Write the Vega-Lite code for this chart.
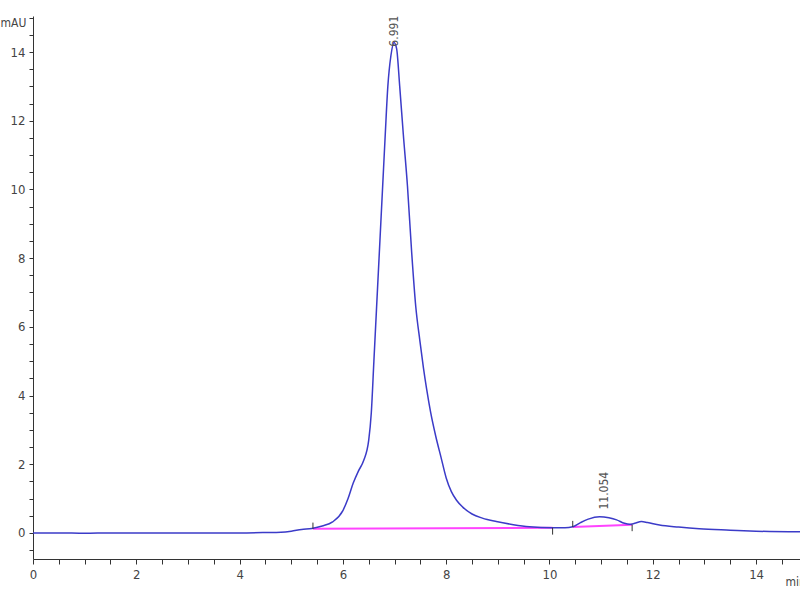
{
  "$schema": "https://vega.github.io/schema/vega-lite/v6.json",
  "autosize": {"type": "none"},
  "padding": {"left": 33, "top": 16, "right": 0, "bottom": 41},
  "width": 767,
  "height": 543,
  "background": "white",
  "config": {
    "view": {"stroke": null},
    "font": "Liberation Sans Narrow, DejaVu Sans Condensed, sans-serif"
  },
  "datasets": {
    "signal": [
      {"t": 0.0, "mAU": 0.0}, {"t": 0.5, "mAU": 0.0}, {"t": 1.0, "mAU": -0.01}, {"t": 1.5, "mAU": 0.0},
      {"t": 2.0, "mAU": 0.0}, {"t": 2.5, "mAU": 0.0}, {"t": 3.0, "mAU": 0.0}, {"t": 3.5, "mAU": 0.0},
      {"t": 4.0, "mAU": 0.0}, {"t": 4.5, "mAU": 0.01}, {"t": 4.8, "mAU": 0.02}, {"t": 5.0, "mAU": 0.05},
      {"t": 5.2, "mAU": 0.1}, {"t": 5.4, "mAU": 0.13}, {"t": 5.6, "mAU": 0.2}, {"t": 5.8, "mAU": 0.32},
      {"t": 6.0, "mAU": 0.65}, {"t": 6.1, "mAU": 1.0}, {"t": 6.2, "mAU": 1.45}, {"t": 6.3, "mAU": 1.8},
      {"t": 6.4, "mAU": 2.1}, {"t": 6.5, "mAU": 2.7}, {"t": 6.55, "mAU": 3.5}, {"t": 6.6, "mAU": 5.0},
      {"t": 6.65, "mAU": 6.5}, {"t": 6.7, "mAU": 8.0}, {"t": 6.77, "mAU": 10.1}, {"t": 6.82, "mAU": 11.6},
      {"t": 6.87, "mAU": 13.0}, {"t": 6.93, "mAU": 13.9}, {"t": 6.99, "mAU": 14.28}, {"t": 7.04, "mAU": 14.1},
      {"t": 7.1, "mAU": 13.0}, {"t": 7.17, "mAU": 11.6}, {"t": 7.25, "mAU": 10.1}, {"t": 7.33, "mAU": 8.2},
      {"t": 7.41, "mAU": 6.6}, {"t": 7.49, "mAU": 5.6}, {"t": 7.56, "mAU": 4.8}, {"t": 7.62, "mAU": 4.2},
      {"t": 7.7, "mAU": 3.5}, {"t": 7.8, "mAU": 2.8}, {"t": 7.9, "mAU": 2.2}, {"t": 8.0, "mAU": 1.6},
      {"t": 8.1, "mAU": 1.2}, {"t": 8.2, "mAU": 0.95}, {"t": 8.32, "mAU": 0.75}, {"t": 8.5, "mAU": 0.55},
      {"t": 8.7, "mAU": 0.43}, {"t": 8.97, "mAU": 0.33}, {"t": 9.3, "mAU": 0.24}, {"t": 9.61, "mAU": 0.18},
      {"t": 10.06, "mAU": 0.15}, {"t": 10.3, "mAU": 0.15}, {"t": 10.45, "mAU": 0.18}, {"t": 10.6, "mAU": 0.3},
      {"t": 10.75, "mAU": 0.4}, {"t": 10.97, "mAU": 0.47}, {"t": 11.15, "mAU": 0.44}, {"t": 11.3, "mAU": 0.38},
      {"t": 11.45, "mAU": 0.28}, {"t": 11.55, "mAU": 0.25}, {"t": 11.65, "mAU": 0.28}, {"t": 11.78, "mAU": 0.33},
      {"t": 11.9, "mAU": 0.3}, {"t": 12.13, "mAU": 0.23}, {"t": 12.5, "mAU": 0.17}, {"t": 12.9, "mAU": 0.12},
      {"t": 13.5, "mAU": 0.08}, {"t": 14.0, "mAU": 0.05}, {"t": 14.85, "mAU": 0.03}
    ],
    "baseline": [
      {"t": 5.42, "mAU": 0.12, "peak": "p1"}, {"t": 10.06, "mAU": 0.15, "peak": "p1"},
      {"t": 10.45, "mAU": 0.17, "peak": "p2"}, {"t": 11.6, "mAU": 0.24, "peak": "p2"}
    ],
    "marks": [
      {"t": 5.42, "y1": 0.12, "y2": 0.3},
      {"t": 10.06, "y1": 0.15, "y2": -0.05},
      {"t": 10.45, "y1": 0.17, "y2": 0.35},
      {"t": 11.6, "y1": 0.24, "y2": 0.05}
    ],
    "peaks": [
      {"t": 6.991, "pos": 14.1, "label": "6.991"},
      {"t": 11.054, "pos": 0.62, "label": "11.054"}
    ]
  },
  "layer": [
    {
      "data": {"name": "baseline"},
      "mark": {"type": "line", "color": "#ff44ff", "strokeWidth": 2, "clip": true},
      "encoding": {
        "x": {"field": "t", "type": "quantitative", "scale": {"domain": [0, 14.85], "nice": false, "zero": false},
          "axis": {
            "values": [0,0.5,1,1.5,2,2.5,3,3.5,4,4.5,5,5.5,6,6.5,7,7.5,8,8.5,9,9.5,10,10.5,11,11.5,12,12.5,13,13.5,14,14.5],
            "tickCount": 200,
            "labelExpr": "(datum.value % 2 == 0) ? format(datum.value, 'd') : ''",
            "labelOverlap": false,
            "grid": false, "domainColor": "#333", "tickColor": "#333", "tickSize": 5,
            "labelColor": "#444", "labelFontSize": 13, "labelPadding": 4, "labelFlush": false,
            "title": "min", "titleAngle": 0, "titleAlign": "left", "titleBaseline": "middle",
            "titleX": 752, "titleY": 22, "titleFontSize": 12, "titleFontWeight": "normal", "titleColor": "#444"
          }},
        "y": {"field": "mAU", "type": "quantitative", "scale": {"domain": [-0.76, 15.05], "nice": false, "zero": false},
          "axis": {
            "values": [-0.5,0,0.5,1,1.5,2,2.5,3,3.5,4,4.5,5,5.5,6,6.5,7,7.5,8,8.5,9,9.5,10,10.5,11,11.5,12,12.5,13,13.5,14,14.5,15],
            "tickCount": 200,
            "labelExpr": "(datum.value % 2 == 0) ? format(datum.value, 'd') : ''",
            "labelOverlap": false,
            "grid": false, "domainColor": "#333", "tickColor": "#333", "tickSize": 4,
            "labelColor": "#444", "labelFontSize": 13, "labelPadding": 4, "labelFlush": false,
            "title": "mAU", "titleAngle": 0, "titleAlign": "center", "titleBaseline": "middle",
            "titleX": -20, "titleY": 6, "titleFontSize": 12, "titleFontWeight": "normal", "titleColor": "#444"
          }},
        "detail": {"field": "peak", "type": "nominal"}
      }
    },
    {
      "data": {"name": "signal"},
      "mark": {"type": "line", "color": "#3b3bc8", "strokeWidth": 1.5, "interpolate": "monotone", "clip": true},
      "encoding": {
        "x": {"field": "t", "type": "quantitative"},
        "y": {"field": "mAU", "type": "quantitative"}
      }
    },
    {
      "data": {"name": "marks"},
      "mark": {"type": "rule", "color": "#333", "strokeWidth": 1},
      "encoding": {
        "x": {"field": "t", "type": "quantitative"},
        "y": {"field": "y1", "type": "quantitative"},
        "y2": {"field": "y2"}
      }
    },
    {
      "data": {"name": "peaks"},
      "mark": {"type": "text", "angle": 270, "align": "left", "baseline": "middle", "fontSize": 12, "color": "#555", "clip": false, "dx": 2},
      "encoding": {
        "x": {"field": "t", "type": "quantitative"},
        "y": {"field": "pos", "type": "quantitative"},
        "text": {"field": "label", "type": "nominal"}
      }
    }
  ]
}
